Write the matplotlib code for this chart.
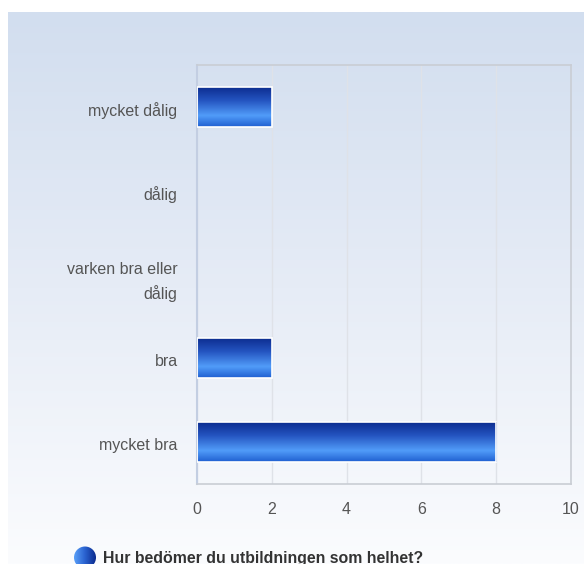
import numpy as np
import matplotlib
matplotlib.use("Agg")
import matplotlib.pyplot as plt
from matplotlib.colors import LinearSegmentedColormap
from matplotlib.transforms import ScaledTranslation

categories = ["mycket dålig", "dålig", "varken bra eller\ndålig", "bra", "mycket bra"]
values = [2, 0, 0, 2, 8]
xticks = [0, 2, 4, 6, 8, 10]
legend_label = "Hur bedömer du utbildningen som helhet?"

plt.rcParams['font.family'] = ['Liberation Sans', 'DejaVu Sans']

W, H = 584, 564
fig = plt.figure(figsize=(W/100, H/100), dpi=100)
fig.patch.set_facecolor('white')

# background gradient panel
bg = fig.add_axes([8/W, 0, (W-8)/W, (H-12)/H])
bg.set_axis_off()
bgcmap = LinearSegmentedColormap.from_list('bg', ['#d2deef', '#e6ecf6', '#fbfcfe'])
bg.imshow(np.linspace(0, 1, 256).reshape(-1, 1), aspect='auto', cmap=bgcmap,
          extent=[0, 1, 0, 1], origin='upper')
bg.set_xlim(0, 1); bg.set_ylim(0, 1)

x0, x1 = 197, 571
y0, y1 = 65, 484
ax = fig.add_axes([x0/W, 1 - y1/H, (x1-x0)/W, (y1-y0)/H])
ax.patch.set_alpha(0)

ypos = np.arange(len(categories))
bars = ax.barh(ypos, values, height=0.48, color='none', edgecolor='white', linewidth=1.2, zorder=3)

barcmap = LinearSegmentedColormap.from_list('bar', [
    (0.0, '#0b2a8c'), (0.35, '#2454c0'), (0.72, '#519cf9'), (1.0, '#1f5fd0')])
grad = np.linspace(0, 1, 256).reshape(-1, 1)
for b, v in zip(bars, values):
    if v <= 0:
        b.set_visible(False)
        continue
    xx, yy = b.get_x(), b.get_y()
    w, h = b.get_width(), b.get_height()
    im = ax.imshow(grad, aspect='auto', cmap=barcmap, extent=[xx, xx + w, yy + h, yy],
                   origin='upper', zorder=2)
    im.set_clip_path(b)
ax.set_xlim(0, 10)
ax.set_ylim(len(categories) - 0.5, -0.5)

ax.set_xticks(xticks)
ax.set_yticks(ypos)
ax.set_yticklabels(categories, linespacing=1.6)
ax.xaxis.grid(True, color='#dfe2e8', linewidth=1)
ax.set_axisbelow(True)
ax.tick_params(axis='both', length=0, colors='#555555', labelsize=11.5)
ax.tick_params(axis='x', pad=13)
ax.tick_params(axis='y', pad=14)
shift = ScaledTranslation(0, -2/100, fig.dpi_scale_trans)
for lbl in ax.get_yticklabels():
    lbl.set_transform(lbl.get_transform() + shift)
for s in ['top', 'right', 'bottom']:
    ax.spines[s].set_color('#c9cdd4')
    ax.spines[s].set_linewidth(1.2)
ax.spines['left'].set_color('#c3cee2')
ax.spines['left'].set_linewidth(1.5)

# legend
lax = fig.add_axes([0, 0, 1, 1])
lax.set_axis_off()
circ = plt.Circle((85, 557.5), 11, transform=lax.transData, facecolor='none', edgecolor='none')
lax.add_patch(circ)
lcmap = LinearSegmentedColormap.from_list('leg', ['#5aa0f8', '#2a62d0', '#0b2a8c'])
im = lax.imshow(np.linspace(0, 1, 256).reshape(1, -1), aspect='auto', cmap=lcmap,
                extent=[74, 96, 568.5, 546.5], zorder=2)
im.set_clip_path(circ)
lax.set_xlim(0, W); lax.set_ylim(H, 0)
lax.text(103, 558, legend_label, fontsize=11.4, fontweight='bold', color='#333333',
         va='center', ha='left')

fig.savefig('out.png', dpi=100)
